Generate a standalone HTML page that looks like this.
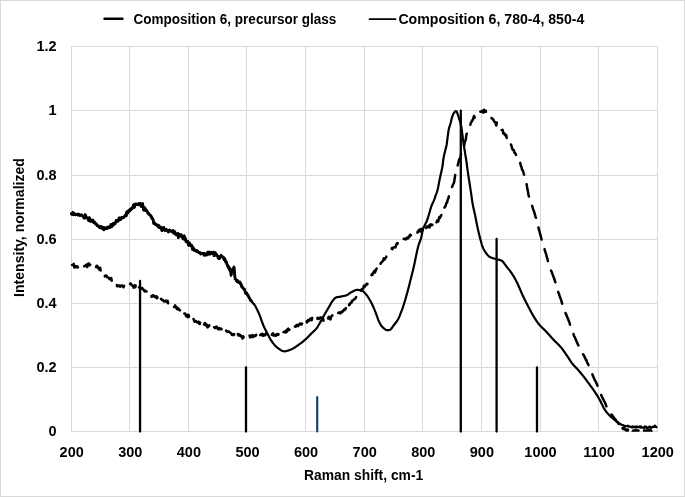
<!DOCTYPE html>
<html><head><meta charset="utf-8"><style>
html,body{margin:0;padding:0;background:#fff;}
body{width:685px;height:497px;overflow:hidden;}
svg{display:block;}
text{font-family:"Liberation Sans",sans-serif;font-weight:bold;font-size:14px;fill:#000;}
text.n{font-size:14.5px;}
</style></head><body>
<svg width="685" height="497" viewBox="0 0 685 497">
<rect x="0.5" y="0.5" width="684" height="496" fill="#fff" stroke="#d9d9d9" stroke-width="1"/>
<g fill="#d9d9d9" shape-rendering="crispEdges"><rect x="71" y="46" width="587" height="1"/><rect x="71" y="110" width="587" height="1"/><rect x="71" y="175" width="587" height="1"/><rect x="71" y="239" width="587" height="1"/><rect x="71" y="303" width="587" height="1"/><rect x="71" y="367" width="587" height="1"/><rect x="71" y="431" width="587" height="1"/><rect x="71" y="46" width="1" height="386"/><rect x="129" y="46" width="1" height="386"/><rect x="188" y="46" width="1" height="386"/><rect x="246" y="46" width="1" height="386"/><rect x="305" y="46" width="1" height="386"/><rect x="364" y="46" width="1" height="386"/><rect x="422" y="46" width="1" height="386"/><rect x="481" y="46" width="1" height="386"/><rect x="540" y="46" width="1" height="386"/><rect x="598" y="46" width="1" height="386"/><rect x="657" y="46" width="1" height="386"/></g>
<g stroke="#000" stroke-width="2.3" stroke-linecap="round"><line x1="140.05" y1="281.0" x2="140.05" y2="431.5"/><line x1="246.0" y1="367.3" x2="246.0" y2="431.5"/><line x1="460.8" y1="110.7" x2="460.8" y2="431.5"/><line x1="496.6" y1="239.0" x2="496.6" y2="431.5"/><line x1="537.0" y1="367.5" x2="537.0" y2="431.5"/></g>
<line x1="317.2" y1="397.1" x2="317.2" y2="431.5" stroke="#1a4178" stroke-width="2.2" stroke-linecap="round"/>
<defs><clipPath id="pa"><rect x="70" y="40" width="590" height="391.7"/></clipPath></defs>
<g fill="none" stroke="#000" stroke-linejoin="round" stroke-linecap="round" clip-path="url(#pa)">
<polyline points="71.10,213.65 71.69,214.27 72.27,213.93 72.86,212.44 73.44,214.78 74.03,214.45 74.62,213.59 75.20,214.82 75.79,214.70 76.37,214.71 76.96,214.53 77.55,215.12 78.13,213.92 78.72,214.58 79.30,214.37 79.89,215.57 80.48,215.18 81.06,215.06 81.65,214.84 82.23,215.66 82.82,216.25 83.41,216.29 83.99,218.18 84.58,218.19 85.16,214.73 85.75,215.78 86.34,217.68 86.92,217.60 87.51,218.40 88.09,218.58 88.68,220.67 89.27,217.65 89.85,218.65 90.44,221.41 91.02,220.50 91.61,221.08 92.20,220.50 92.78,219.95 93.37,222.30 93.95,222.79 94.54,222.00 95.13,223.08 95.71,224.20 96.30,223.79 96.88,225.11 97.47,225.76 98.06,226.12 98.64,225.92 99.23,227.28 99.81,227.77 100.40,227.35 100.99,226.35 101.57,228.07 102.16,227.08 102.74,228.92 103.33,227.50 103.92,229.86 104.50,228.97 105.09,227.66 105.67,228.46 106.26,228.65 106.85,228.69 107.43,227.23 108.02,226.85 108.60,227.86 109.19,226.86 109.78,227.21 110.36,227.35 110.95,224.49 111.53,225.90 112.12,226.37 112.71,224.36 113.29,223.38 113.88,224.49 114.46,223.54 115.05,223.73 115.64,222.04 116.22,220.44 116.81,221.33 117.39,220.51 117.98,221.25 118.57,220.21 119.15,217.96 119.74,218.01 120.32,219.73 120.91,219.18 121.50,217.51 122.08,217.78 122.67,217.83 123.25,217.45 123.84,217.44 124.43,216.39 125.01,215.59 125.60,214.95 126.18,215.75 126.77,211.89 127.36,213.35 127.94,212.80 128.53,210.57 129.11,211.53 129.70,209.75 130.29,210.48 130.87,208.76 131.46,208.89 132.04,208.86 132.63,207.51 133.22,205.72 133.80,204.56 134.39,207.32 134.97,204.98 135.56,203.99 136.15,204.49 136.73,203.93 137.32,204.86 137.90,204.05 138.49,204.10 139.08,203.50 139.66,204.86 140.25,203.57 140.83,205.51 141.42,206.64 142.01,203.94 142.59,203.57 143.18,207.40 143.76,210.16 144.35,207.45 144.94,207.97 145.52,210.50 146.11,209.74 146.69,210.74 147.28,211.57 147.87,213.14 148.45,212.93 149.04,214.38 149.62,214.71 150.21,214.86 150.80,216.25 151.38,216.52 151.97,218.52 152.55,218.56 153.14,219.79 153.73,223.42 154.31,222.76 154.90,223.41 155.48,224.54 156.07,224.12 156.66,224.77 157.24,225.86 157.83,226.15 158.41,225.15 159.00,227.62 159.59,226.70 160.17,226.73 160.76,227.35 161.34,228.27 161.93,230.62 162.52,228.03 163.10,229.50 163.69,227.31 164.27,229.53 164.86,230.51 165.45,229.44 166.03,229.11 166.62,230.03 167.20,230.58 167.79,230.64 168.38,232.07 168.96,230.46 169.55,229.87 170.13,230.58 170.72,230.90 171.31,231.37 171.89,231.53 172.48,232.03 173.06,230.46 173.65,233.23 174.24,232.09 174.82,231.77 175.41,233.85 175.99,234.81 176.58,234.27 177.17,234.24 177.75,233.44 178.34,237.56 178.92,235.89 179.51,234.21 180.10,234.91 180.68,236.13 181.27,234.85 181.85,236.96 182.44,236.74 183.03,238.86 183.61,239.05 184.20,235.89 184.78,239.21 185.37,238.16 185.96,241.51 186.54,241.19 187.13,242.18 187.71,241.17 188.30,244.66 188.89,245.46 189.47,242.98 190.06,245.04 190.64,244.63 191.23,245.94 191.82,245.37 192.40,249.28 192.99,247.28 193.57,248.78 194.16,250.30 194.75,249.69 195.33,250.51 195.92,250.55 196.50,251.32 197.09,250.58 197.68,251.59 198.26,252.08 198.85,252.19 199.43,252.82 200.02,252.71 200.61,254.00 201.19,253.19 201.78,253.65 202.36,253.41 202.95,253.81 203.54,253.31 204.12,255.27 204.71,253.72 205.29,254.15 205.88,255.17 206.47,255.03 207.05,253.98 207.64,252.09 208.22,254.26 208.81,253.86 209.40,252.04 209.98,254.17 210.57,252.71 211.15,252.32 211.74,253.59 212.33,253.38 212.91,253.85 213.50,252.16 214.08,255.71 214.67,253.46 215.26,252.70 215.84,255.07 216.43,254.33 217.01,255.32 217.60,255.96 218.19,257.85 218.77,258.62 219.36,257.26 219.94,258.05 220.53,256.23 221.12,255.34 221.70,256.21 222.29,256.94 222.87,256.97 223.46,257.26 224.05,259.78 224.63,258.44 225.22,260.11 225.80,262.18 226.39,261.86 226.98,264.36 227.56,265.40 228.15,267.46 228.73,266.73 229.32,268.30 229.91,270.60 230.49,268.98 231.08,275.31 231.66,271.64 232.25,270.67 232.84,270.78 233.42,268.65 234.01,267.04 234.59,273.71 235.18,278.98 235.77,279.45 236.35,280.28 236.94,281.51 237.52,280.46 238.11,282.15 238.70,282.32 239.28,282.02 239.87,281.96 240.45,283.84 241.04,283.96 241.63,286.63 242.21,286.59 242.80,288.07 243.38,288.30 243.97,289.35 244.56,289.29 245.14,291.60 245.73,293.49 246.31,292.66 246.90,293.43 247.49,294.76 248.07,295.54 248.66,296.41 249.24,297.88 249.83,298.59 250.42,300.30 251.00,300.46 251.59,301.34 252.17,302.24 252.76,302.56 253.35,303.67 253.93,303.99 254.52,304.82 255.10,305.80 255.69,306.82 256.28,307.90 256.86,309.05 257.45,310.25 258.03,311.51 258.62,312.81 259.21,314.15 259.79,315.61 260.38,317.20 260.96,318.86 261.55,320.55 262.14,322.21 262.72,323.78 263.31,325.22 263.89,326.54 264.48,327.79 265.07,329.00 265.65,330.16 266.24,331.30 266.82,332.42 267.41,333.53 268.00,334.65 268.58,335.78 269.17,336.91 269.75,338.01 270.34,339.07 270.93,340.07 271.51,340.99 272.10,341.81 272.68,342.61 273.27,343.39 273.86,344.13 274.44,344.84 275.03,345.51 275.61,346.13 276.20,346.71 276.79,347.22 277.37,347.68 277.96,348.10 278.54,348.53 279.13,348.95 279.72,349.36 280.30,349.76 280.89,350.12 281.47,350.45 282.06,350.73 282.65,350.97 283.23,351.15 283.82,351.26 284.40,351.30 284.99,351.28 285.58,351.21 286.16,351.11 286.75,350.97 287.33,350.80 287.92,350.61 288.51,350.41 289.09,350.18 289.68,349.95 290.26,349.71 290.85,349.46 291.44,349.23 292.02,348.98 292.61,348.70 293.19,348.39 293.78,348.06 294.37,347.71 294.95,347.34 295.54,346.95 296.12,346.55 296.71,346.15 297.30,345.74 297.88,345.33 298.47,344.92 299.05,344.51 299.64,344.09 300.23,343.67 300.81,343.23 301.40,342.78 301.98,342.33 302.57,341.86 303.16,341.38 303.74,340.90 304.33,340.41 304.91,339.90 305.50,339.39 306.09,338.86 306.67,338.31 307.26,337.74 307.84,337.15 308.43,336.56 309.02,335.95 309.60,335.34 310.19,334.74 310.77,334.13 311.36,333.54 311.95,332.97 312.53,332.42 313.12,331.87 313.70,331.33 314.29,330.77 314.88,330.19 315.46,329.58 316.05,328.92 316.63,328.21 317.22,327.42 317.81,326.50 318.39,325.50 318.98,324.47 319.56,323.43 320.15,322.42 320.74,321.39 321.32,320.35 321.91,319.29 322.49,318.23 323.08,317.17 323.67,316.12 324.25,315.08 324.84,314.06 325.42,313.04 326.01,312.02 326.60,311.01 327.18,310.01 327.77,309.00 328.35,308.00 328.94,307.00 329.53,305.98 330.11,304.91 330.70,303.85 331.28,302.82 331.87,301.88 332.46,301.06 333.04,300.31 333.63,299.58 334.21,298.89 334.80,298.29 335.39,297.81 335.97,297.51 336.56,297.33 337.14,297.18 337.73,297.06 338.32,296.96 338.90,296.87 339.49,296.79 340.07,296.71 340.66,296.63 341.25,296.53 341.83,296.41 342.42,296.29 343.00,296.16 343.59,296.03 344.18,295.89 344.76,295.74 345.35,295.58 345.93,295.40 346.52,295.19 347.11,294.93 347.69,294.60 348.28,294.23 348.86,293.82 349.45,293.40 350.04,292.99 350.62,292.62 351.21,292.30 351.79,291.99 352.38,291.67 352.97,291.34 353.55,291.02 354.14,290.72 354.72,290.45 355.31,290.22 355.90,290.04 356.48,289.93 357.07,289.90 357.65,289.91 358.24,289.95 358.83,290.00 359.41,290.07 360.00,290.16 360.58,290.27 361.17,290.38 361.76,290.51 362.34,290.76 362.93,291.15 363.51,291.66 364.10,292.25 364.69,292.86 365.27,293.47 365.86,294.12 366.44,294.85 367.03,295.63 367.62,296.46 368.20,297.34 368.79,298.24 369.37,299.19 369.96,300.19 370.55,301.26 371.13,302.37 371.72,303.52 372.30,304.71 372.89,305.97 373.48,307.30 374.06,308.68 374.65,310.10 375.23,311.54 375.82,313.00 376.41,314.58 376.99,316.27 377.58,317.96 378.16,319.58 378.75,321.04 379.34,322.26 379.92,323.36 380.51,324.38 381.09,325.32 381.68,326.16 382.27,326.87 382.85,327.44 383.44,327.96 384.02,328.47 384.61,328.95 385.20,329.38 385.78,329.73 386.37,330.00 386.95,330.16 387.54,330.20 388.13,330.16 388.71,330.08 389.30,329.97 389.88,329.83 390.47,329.57 391.06,329.03 391.64,328.29 392.23,327.44 392.81,326.56 393.40,325.73 393.99,324.99 394.57,324.27 395.16,323.54 395.74,322.80 396.33,322.01 396.92,321.16 397.50,320.23 398.09,319.20 398.67,318.04 399.26,316.76 399.85,315.39 400.43,313.94 401.02,312.43 401.60,310.89 402.19,309.31 402.78,307.64 403.36,305.87 403.95,304.02 404.53,302.14 405.12,300.22 405.71,298.22 406.29,296.17 406.88,294.07 407.46,291.93 408.05,289.74 408.64,287.48 409.22,285.18 409.81,282.85 410.39,280.52 410.98,278.21 411.57,275.89 412.15,273.55 412.74,271.17 413.32,268.74 413.91,266.21 414.50,263.50 415.08,260.68 415.67,257.81 416.25,254.96 416.84,252.18 417.43,249.55 418.01,247.14 418.60,245.01 419.18,243.25 419.77,241.76 420.36,240.28 420.94,238.54 421.53,236.14 422.11,233.03 422.70,230.21 423.29,228.40 423.87,227.03 424.46,225.83 425.04,224.60 425.63,223.39 426.22,222.22 426.80,220.96 427.39,219.50 427.97,217.71 428.56,215.73 429.15,213.71 429.73,211.71 430.32,209.61 430.90,207.59 431.49,205.86 432.08,204.46 432.66,203.22 433.25,202.01 433.83,200.67 434.42,199.08 435.01,197.34 435.59,195.62 436.18,194.08 436.76,192.56 437.35,190.77 437.94,188.35 438.52,185.35 439.11,182.19 439.69,179.28 440.28,176.54 440.87,173.83 441.45,171.19 442.04,168.58 442.62,165.26 443.21,160.21 443.80,156.52 444.38,153.96 444.97,151.65 445.55,149.35 446.14,147.16 446.73,144.24 447.31,139.58 447.90,135.09 448.48,130.93 449.07,128.07 449.66,126.14 450.24,124.38 450.83,122.20 451.41,119.65 452.00,117.40 452.59,115.76 453.17,114.33 453.76,113.19 454.34,112.40 454.93,111.72 455.52,111.20 456.10,111.00 456.69,111.70 457.27,113.04 457.86,114.57 458.45,116.42 459.03,118.31 459.62,120.07 460.20,121.90 460.79,124.08 461.38,127.03 461.96,131.07 462.55,135.46 463.13,140.25 463.72,144.62 464.31,148.37 464.89,151.93 465.48,155.47 466.06,158.97 466.65,163.02 467.24,167.62 467.82,171.94 468.41,175.80 468.99,179.50 469.58,183.27 470.17,187.06 470.75,190.89 471.34,194.85 471.92,199.11 472.51,203.09 473.10,206.25 473.68,208.90 474.27,211.38 474.85,213.98 475.44,216.89 476.03,219.95 476.61,223.03 477.20,225.98 477.78,228.69 478.37,231.26 478.96,233.73 479.54,236.10 480.13,238.36 480.71,240.55 481.30,242.74 481.89,244.78 482.47,246.53 483.06,247.92 483.64,249.15 484.23,250.26 484.82,251.27 485.40,252.17 485.99,252.99 486.57,253.75 487.16,254.47 487.75,255.15 488.33,255.77 488.92,256.31 489.50,256.76 490.09,257.10 490.68,257.38 491.26,257.62 491.85,257.84 492.43,258.03 493.02,258.21 493.61,258.38 494.19,258.54 494.78,258.71 495.36,258.89 495.95,259.06 496.54,259.21 497.12,259.35 497.71,259.48 498.29,259.61 498.88,259.75 499.47,259.90 500.05,260.07 500.64,260.26 501.22,260.49 501.81,260.76 502.40,261.17 502.98,261.75 503.57,262.46 504.15,263.25 504.74,264.08 505.33,264.92 505.91,265.73 506.50,266.47 507.08,267.20 507.67,267.93 508.26,268.66 508.84,269.40 509.43,270.15 510.01,270.93 510.60,271.72 511.19,272.55 511.77,273.41 512.36,274.30 512.94,275.22 513.53,276.18 514.12,277.16 514.70,278.18 515.29,279.23 515.87,280.31 516.46,281.42 517.05,282.59 517.63,283.82 518.22,285.11 518.80,286.45 519.39,287.81 519.98,289.19 520.56,290.58 521.15,291.94 521.73,293.28 522.32,294.58 522.91,295.83 523.49,297.06 524.08,298.26 524.66,299.45 525.25,300.63 525.84,301.79 526.42,302.95 527.01,304.09 527.59,305.22 528.18,306.35 528.77,307.48 529.35,308.62 529.94,309.75 530.52,310.87 531.11,311.97 531.70,313.06 532.28,314.11 532.87,315.14 533.45,316.12 534.04,317.08 534.63,318.03 535.21,318.95 535.80,319.86 536.38,320.75 536.97,321.60 537.56,322.43 538.14,323.22 538.73,323.97 539.31,324.67 539.90,325.34 540.49,325.98 541.07,326.59 541.66,327.18 542.24,327.75 542.83,328.31 543.42,328.86 544.00,329.41 544.59,329.98 545.17,330.55 545.76,331.14 546.35,331.76 546.93,332.39 547.52,333.03 548.10,333.68 548.69,334.34 549.28,335.00 549.86,335.66 550.45,336.33 551.03,336.99 551.62,337.65 552.21,338.30 552.79,338.94 553.38,339.57 553.96,340.18 554.55,340.78 555.14,341.36 555.72,341.93 556.31,342.49 556.89,343.05 557.48,343.61 558.07,344.19 558.65,344.77 559.24,345.38 559.82,346.01 560.41,346.66 561.00,347.35 561.58,348.08 562.17,348.83 562.75,349.62 563.34,350.43 563.93,351.25 564.51,352.09 565.10,352.94 565.68,353.80 566.27,354.65 566.86,355.50 567.44,356.35 568.03,357.23 568.61,358.13 569.20,359.05 569.79,359.96 570.37,360.86 570.96,361.73 571.54,362.56 572.13,363.34 572.72,364.06 573.30,364.74 573.89,365.40 574.47,366.03 575.06,366.65 575.65,367.26 576.23,367.87 576.82,368.48 577.40,369.12 577.99,369.77 578.58,370.45 579.16,371.14 579.75,371.83 580.33,372.53 580.92,373.24 581.51,373.95 582.09,374.67 582.68,375.40 583.26,376.14 583.85,376.88 584.44,377.63 585.02,378.40 585.61,379.18 586.19,379.97 586.78,380.76 587.37,381.56 587.95,382.37 588.54,383.17 589.12,383.97 589.71,384.76 590.30,385.55 590.88,386.34 591.47,387.14 592.05,387.94 592.64,388.75 593.23,389.58 593.81,390.42 594.40,391.27 594.98,392.14 595.57,393.02 596.16,393.92 596.74,394.84 597.33,395.78 597.91,396.75 598.50,397.74 599.09,398.75 599.67,399.79 600.26,400.86 600.84,401.95 601.43,403.14 602.02,404.37 602.60,405.60 603.19,406.81 603.77,407.93 604.36,408.94 604.95,409.84 605.53,410.69 606.12,411.50 606.70,412.26 607.29,412.99 607.88,413.68 608.46,414.33 609.05,414.96 609.63,415.55 610.22,416.10 610.81,416.63 611.39,417.14 611.98,417.65 612.56,418.14 613.15,418.64 613.74,419.15 614.32,419.66 614.91,420.17 615.49,420.66 616.08,421.14 616.67,421.60 617.25,422.01 617.84,422.37 618.42,422.76 619.01,423.08 619.60,423.62 620.18,424.03 620.77,424.42 621.35,424.35 621.94,425.03 622.53,425.11 623.11,425.00 623.70,425.45 624.28,425.76 624.87,425.83 625.46,426.01 626.04,426.20 626.63,426.30 627.21,426.14 627.80,425.60 628.39,426.08 628.97,426.52 629.56,426.31 630.14,426.78 630.73,426.90 631.32,426.67 631.90,427.47 632.49,426.36 633.07,427.23 633.66,426.67 634.25,426.57 634.83,427.26 635.42,426.73 636.00,427.50 636.59,426.50 637.18,427.15 637.76,426.70 638.35,427.04 638.93,426.97 639.52,426.52 640.11,427.58 640.69,426.44 641.28,426.60 641.86,427.72 642.45,427.77 643.04,427.59 643.62,427.39 644.21,428.56 644.79,426.46 645.38,426.74 645.97,426.59 646.55,427.73 647.14,427.36 647.72,427.86 648.31,427.77 648.90,427.05 649.48,426.69 650.07,426.58 650.65,428.48 651.24,427.72 651.83,427.48 652.41,426.90 653.00,426.96 653.58,426.85 654.17,426.83 654.76,425.56 655.34,426.93 655.93,426.71 656.51,427.08" stroke-width="2.2"/>
<polyline points="71.10,213.65 71.69,214.27 72.27,213.93 72.86,212.44 73.44,214.78 74.03,214.45 74.62,213.59 75.20,214.82 75.79,214.70 76.37,214.71 76.96,214.53 77.55,215.12 78.13,213.92 78.72,214.58 79.30,214.37 79.89,215.57 80.48,215.18 81.06,215.06 81.65,214.84 82.23,215.66 82.82,216.25 83.41,216.29 83.99,218.18 84.58,218.19 85.16,214.73 85.75,215.78 86.34,217.68 86.92,217.60 87.51,218.40 88.09,218.58 88.68,220.67 89.27,217.65 89.85,218.65 90.44,221.41 91.02,220.50 91.61,221.08 92.20,220.50 92.78,219.95 93.37,222.30 93.95,222.79 94.54,222.00 95.13,223.08 95.71,224.20 96.30,223.79 96.88,225.11 97.47,225.76 98.06,226.12 98.64,225.92 99.23,227.28 99.81,227.77 100.40,227.35 100.99,226.35 101.57,228.07 102.16,227.08 102.74,228.92 103.33,227.50 103.92,229.86 104.50,228.97 105.09,227.66 105.67,228.46 106.26,228.65 106.85,228.69 107.43,227.23 108.02,226.85 108.60,227.86 109.19,226.86 109.78,227.21 110.36,227.35 110.95,224.49 111.53,225.90 112.12,226.37 112.71,224.36 113.29,223.38 113.88,224.49 114.46,223.54 115.05,223.73 115.64,222.04 116.22,220.44 116.81,221.33 117.39,220.51 117.98,221.25 118.57,220.21 119.15,217.96 119.74,218.01 120.32,219.73 120.91,219.18 121.50,217.51 122.08,217.78 122.67,217.83 123.25,217.45 123.84,217.44 124.43,216.39 125.01,215.59 125.60,214.95 126.18,215.75 126.77,211.89 127.36,213.35 127.94,212.80 128.53,210.57 129.11,211.53 129.70,209.75 130.29,210.48 130.87,208.76 131.46,208.89 132.04,208.86 132.63,207.51 133.22,205.72 133.80,204.56 134.39,207.32 134.97,204.98 135.56,203.99 136.15,204.49 136.73,203.93 137.32,204.86 137.90,204.05 138.49,204.10 139.08,203.50 139.66,204.86 140.25,203.57 140.83,205.51 141.42,206.64 142.01,203.94 142.59,203.57 143.18,207.40 143.76,210.16 144.35,207.45 144.94,207.97 145.52,210.50 146.11,209.74 146.69,210.74 147.28,211.57 147.87,213.14 148.45,212.93 149.04,214.38 149.62,214.71 150.21,214.86 150.80,216.25 151.38,216.52 151.97,218.52 152.55,218.56 153.14,219.79 153.73,223.42 154.31,222.76 154.90,223.41 155.48,224.54 156.07,224.12 156.66,224.77 157.24,225.86 157.83,226.15 158.41,225.15 159.00,227.62 159.59,226.70 160.17,226.73 160.76,227.35 161.34,228.27 161.93,230.62 162.52,228.03 163.10,229.50 163.69,227.31 164.27,229.53 164.86,230.51 165.45,229.44 166.03,229.11 166.62,230.03 167.20,230.58 167.79,230.64 168.38,232.07 168.96,230.46 169.55,229.87 170.13,230.58 170.72,230.90 171.31,231.37 171.89,231.53 172.48,232.03 173.06,230.46 173.65,233.23 174.24,232.09 174.82,231.77 175.41,233.85 175.99,234.81 176.58,234.27 177.17,234.24 177.75,233.44 178.34,237.56 178.92,235.89 179.51,234.21 180.10,234.91 180.68,236.13 181.27,234.85 181.85,236.96 182.44,236.74 183.03,238.86 183.61,239.05 184.20,235.89 184.78,239.21 185.37,238.16 185.96,241.51 186.54,241.19 187.13,242.18 187.71,241.17 188.30,244.66 188.89,245.46 189.47,242.98 190.06,245.04 190.64,244.63 191.23,245.94 191.82,245.37 192.40,249.28 192.99,247.28 193.57,248.78 194.16,250.30 194.75,249.69 195.33,250.51 195.92,250.55 196.50,251.32 197.09,250.58 197.68,251.59 198.26,252.08 198.85,252.19 199.43,252.82 200.02,252.71 200.61,254.00 201.19,253.19 201.78,253.65 202.36,253.41 202.95,253.81 203.54,253.31 204.12,255.27 204.71,253.72 205.29,254.15 205.88,255.17 206.47,255.03 207.05,253.98 207.64,252.09 208.22,254.26 208.81,253.86 209.40,252.04 209.98,254.17 210.57,252.71 211.15,252.32 211.74,253.59 212.33,253.38 212.91,253.85 213.50,252.16 214.08,255.71 214.67,253.46 215.26,252.70 215.84,255.07 216.43,254.33 217.01,255.32 217.60,255.96 218.19,257.85 218.77,258.62 219.36,257.26 219.94,258.05 220.53,256.23 221.12,255.34 221.70,256.21 222.29,256.94 222.87,256.97 223.46,257.26 224.05,259.78 224.63,258.44 225.22,260.11 225.80,262.18 226.39,261.86 226.98,264.36 227.56,265.40 228.15,267.46 228.73,266.73 229.32,268.30 229.91,270.60 230.49,268.98 231.08,275.31 231.66,271.64 232.25,270.67 232.84,270.78 233.42,268.65 234.01,267.04 234.59,273.71 235.18,278.98 235.77,279.45 236.35,280.28 236.94,281.51 237.52,280.46 238.11,282.15 238.70,282.32 239.28,282.02 239.87,281.96 240.45,283.84 241.04,283.96 241.63,286.63 242.21,286.59 242.80,288.07 243.38,288.30 243.97,289.35 244.56,289.29 245.14,291.60 245.73,293.49 246.31,292.66 246.90,293.43 247.49,294.76 248.07,295.54 248.66,296.41 249.24,297.88 249.83,298.59 250.42,300.30 251.00,300.46 251.59,301.34" stroke-width="2.8"/>
<polyline points="72.00,265.05 72.59,264.80 73.17,265.20 73.76,263.85 74.34,267.50 74.93,267.19 75.52,266.19 76.10,267.20 76.69,266.89 77.27,266.26 77.86,267.47 78.45,266.42 79.03,266.36 79.62,265.94 80.20,266.87 80.79,266.36 81.38,266.81 81.96,265.82 82.55,266.33 83.13,265.43 83.72,266.71 84.31,266.08 84.89,266.08 85.48,266.03 86.06,264.78 86.65,266.08 87.24,266.94 87.82,263.81 88.41,263.57 88.99,263.59 89.58,265.33 90.17,264.66 90.75,265.37 91.34,265.09 91.92,264.74 92.51,264.92 93.10,264.71 93.68,265.73 94.27,264.33 94.85,265.11 95.44,265.88 96.03,267.44 96.61,265.75 97.20,265.90 97.78,266.73 98.37,268.42 98.96,267.96 99.54,269.74 100.13,267.73 100.71,270.71 101.30,271.25 101.89,269.92 102.47,271.83 103.06,273.34 103.64,273.12 104.23,274.58 104.82,276.40 105.40,275.40 105.99,275.56 106.57,275.71 107.16,277.33 107.75,277.12 108.33,277.57 108.92,278.07 109.50,279.12 110.09,278.22 110.68,278.35 111.26,278.14 111.85,281.57 112.43,281.19 113.02,282.85 113.61,282.13 114.19,282.02 114.78,283.44 115.36,283.45 115.95,282.99 116.54,283.76 117.12,286.34 117.71,285.61 118.29,285.99 118.88,285.67 119.47,285.45 120.05,286.77 120.64,286.03 121.22,285.55 121.81,286.09 122.40,285.50 122.98,286.41 123.57,287.18 124.15,285.62 124.74,287.44 125.33,285.76 125.91,286.35 126.50,285.42 127.08,285.71 127.67,285.69 128.26,285.06 128.84,284.59 129.43,284.39 130.01,284.09 130.60,283.38 131.19,284.39 131.77,285.07 132.36,285.77 132.94,285.89 133.53,287.59 134.12,285.95 134.70,285.33 135.29,287.20 135.87,284.86 136.46,286.53 137.05,285.18 137.63,286.51 138.22,284.97 138.80,287.57 139.39,287.00 139.98,286.63 140.56,289.03 141.15,288.61 141.73,288.37 142.32,288.12 142.91,289.16 143.49,289.58 144.08,290.82 144.66,291.38 145.25,290.64 145.84,291.15 146.42,291.57 147.01,291.30 147.59,292.29 148.18,293.05 148.77,294.04 149.35,294.90 149.94,293.54 150.52,294.96 151.11,294.49 151.70,296.83 152.28,295.44 152.87,296.19 153.45,295.34 154.04,295.73 154.63,296.82 155.21,296.63 155.80,297.49 156.38,296.22 156.97,298.26 157.56,297.26 158.14,299.62 158.73,298.26 159.31,299.63 159.90,297.89 160.49,299.60 161.07,298.81 161.66,299.40 162.24,300.08 162.83,300.07 163.42,300.79 164.00,301.44 164.59,301.62 165.17,301.28 165.76,300.52 166.35,301.22 166.93,301.97 167.52,300.70 168.10,303.27 168.69,302.75 169.28,303.03 169.86,304.29 170.45,304.38 171.03,304.34 171.62,303.70 172.21,305.11 172.79,305.52 173.38,304.93 173.96,306.88 174.55,306.87 175.14,305.32 175.72,307.42 176.31,306.75 176.89,309.10 177.48,309.27 178.07,308.17 178.65,308.76 179.24,309.96 179.82,310.09 180.41,311.92 181.00,311.70 181.58,311.29 182.17,312.39 182.75,310.71 183.34,313.00 183.93,313.85 184.51,313.43 185.10,313.41 185.68,314.85 186.27,316.38 186.86,315.39 187.44,314.76 188.03,317.26 188.61,315.05 189.20,317.40 189.79,316.98 190.37,318.64 190.96,317.65 191.54,319.81 192.13,319.40 192.72,318.16 193.30,318.33 193.89,319.99 194.47,321.59 195.06,320.95 195.65,321.20 196.23,321.24 196.82,322.29 197.40,322.26 197.99,322.44 198.58,321.67 199.16,323.64 199.75,324.01 200.33,322.09 200.92,325.18 201.51,324.11 202.09,323.33 202.68,322.37 203.26,324.58 203.85,324.65 204.44,323.88 205.02,323.06 205.61,325.54 206.19,324.31 206.78,324.55 207.37,327.36 207.95,326.95 208.54,326.17 209.12,325.22 209.71,326.28 210.30,324.11 210.88,326.20 211.47,325.68 212.05,325.45 212.64,325.39 213.23,327.27 213.81,327.11 214.40,327.36 214.98,328.10 215.57,326.95 216.16,326.84 216.74,326.61 217.33,327.97 217.91,329.05 218.50,328.54 219.09,329.39 219.67,328.15 220.26,328.94 220.84,328.92 221.43,328.76 222.02,331.46 222.60,330.88 223.19,329.81 223.77,330.03 224.36,330.83 224.95,329.94 225.53,331.67 226.12,330.52 226.70,331.49 227.29,331.20 227.88,331.88 228.46,331.43 229.05,331.48 229.63,332.19 230.22,332.65 230.81,333.19 231.39,333.70 231.98,335.07 232.56,334.71 233.15,334.06 233.74,335.06 234.32,334.14 234.91,336.06 235.49,335.54 236.08,334.21 236.67,336.08 237.25,336.29 237.84,333.63 238.42,335.29 239.01,335.60 239.60,334.53 240.18,335.31 240.77,335.49 241.35,336.74 241.94,336.64 242.53,338.57 243.11,336.20 243.70,337.48 244.28,336.65 244.87,336.82 245.46,335.67 246.04,335.05 246.63,335.94 247.21,337.12 247.80,337.73 248.39,336.89 248.97,336.74 249.56,335.60 250.14,337.43 250.73,337.21 251.32,335.63 251.90,335.95 252.49,335.12 253.07,337.02 253.66,336.11 254.25,335.64 254.83,335.96 255.42,335.90 256.00,335.13 256.59,334.37 257.18,334.24 257.76,333.79 258.35,335.46 258.93,336.79 259.52,333.59 260.11,335.00 260.69,335.17 261.28,334.02 261.86,334.96 262.45,333.92 263.04,335.76 263.62,334.32 264.21,334.88 264.79,335.35 265.38,334.46 265.97,333.37 266.55,334.37 267.14,335.41 267.72,334.73 268.31,334.98 268.90,333.94 269.48,334.91 270.07,335.38 270.65,334.83 271.24,336.32 271.83,334.60 272.41,333.91 273.00,333.41 273.58,335.58 274.17,334.56 274.76,335.35 275.34,334.84 275.93,335.71 276.51,335.34 277.10,333.95 277.69,334.39 278.27,334.95 278.86,333.00 279.44,335.04 280.03,334.71 280.62,334.36 281.20,333.22 281.79,333.42 282.37,332.06 282.96,332.76 283.55,331.99 284.13,332.28 284.72,331.56 285.30,331.94 285.89,332.41 286.48,330.17 287.06,331.69 287.65,329.09 288.23,328.68 288.82,330.03 289.41,329.84 289.99,329.89 290.58,327.92 291.16,328.88 291.75,328.72 292.34,329.31 292.92,327.91 293.51,328.08 294.09,326.53 294.68,326.80 295.27,326.22 295.85,326.76 296.44,325.03 297.02,324.78 297.61,325.54 298.20,326.15 298.78,324.69 299.37,324.31 299.95,323.50 300.54,324.37 301.13,323.66 301.71,324.35 302.30,322.96 302.88,321.69 303.47,321.75 304.06,321.18 304.64,320.75 305.23,322.55 305.81,321.99 306.40,320.18 306.99,322.43 307.57,321.05 308.16,319.95 308.74,320.89 309.33,320.40 309.92,319.72 310.50,318.67 311.09,320.14 311.67,320.24 312.26,317.84 312.85,320.25 313.43,320.19 314.02,319.22 314.60,319.58 315.19,319.16 315.78,318.61 316.36,318.89 316.95,320.15 317.53,317.81 318.12,319.06 318.71,318.93 319.29,318.13 319.88,318.26 320.46,317.42 321.05,317.79 321.64,318.43 322.22,318.63 322.81,317.60 323.39,320.73 323.98,317.79 324.57,318.30 325.15,317.97 325.74,317.78 326.32,319.08 326.91,317.59 327.50,318.96 328.08,318.72 328.67,316.87 329.25,318.42 329.84,316.95 330.43,319.53 331.01,316.89 331.60,316.30 332.18,315.36 332.77,315.68 333.36,316.05 333.94,315.47 334.53,315.02 335.11,315.16 335.70,315.25 336.29,316.25 336.87,313.40 337.46,313.99 338.04,313.34 338.63,312.56 339.22,312.43 339.80,312.38 340.39,313.34 340.97,312.25 341.56,311.60 342.15,312.12 342.73,311.43 343.32,310.57 343.90,310.55 344.49,309.02 345.08,309.60 345.66,308.86 346.25,307.53 346.83,306.25 347.42,307.81 348.01,306.05 348.59,307.77 349.18,304.16 349.76,304.70 350.35,303.00 350.94,302.88 351.52,302.67 352.11,300.69 352.69,300.59 353.28,300.14 353.87,299.45 354.45,299.19 355.04,298.88 355.62,298.06 356.21,296.94 356.80,295.76 357.38,294.44 357.97,294.02 358.55,293.45 359.14,293.66 359.73,292.07 360.31,290.61 360.90,291.37 361.48,289.51 362.07,288.86 362.66,288.66 363.24,288.60 363.83,285.70 364.41,286.12 365.00,286.53 365.59,285.43 366.17,284.31 366.76,283.76 367.34,284.39 367.93,281.92 368.52,281.78 369.10,280.74 369.69,278.63 370.27,278.23 370.86,276.44 371.45,275.29 372.03,273.95 372.62,274.70 373.20,272.89 373.79,272.00 374.38,270.81 374.96,272.45 375.55,270.91 376.13,269.53 376.72,268.41 377.31,267.06 377.89,267.83 378.48,267.12 379.06,265.03 379.65,266.33 380.24,265.24 380.82,263.04 381.41,262.53 381.99,261.79 382.58,261.42 383.17,260.32 383.75,258.28 384.34,259.94 384.92,258.19 385.51,258.15 386.10,257.37 386.68,255.46 387.27,255.18 387.85,254.79 388.44,254.13 389.03,252.71 389.61,251.69 390.20,251.56 390.78,250.25 391.37,249.81 391.96,248.01 392.54,249.08 393.13,247.58 393.71,247.35 394.30,247.15 394.89,246.83 395.47,247.46 396.06,245.49 396.64,243.58 397.23,244.20 397.82,243.02 398.40,243.24 398.99,241.82 399.57,241.28 400.16,240.95 400.75,240.41 401.33,239.05 401.92,239.62 402.50,239.80 403.09,240.46 403.68,238.97 404.26,238.63 404.85,239.12 405.43,238.83 406.02,239.41 406.61,238.34 407.19,237.58 407.78,238.39 408.36,238.24 408.95,236.33 409.54,236.52 410.12,234.74 410.71,235.47 411.29,234.74 411.88,234.95 412.47,234.41 413.05,234.34 413.64,234.06 414.22,234.21 414.81,233.68 415.40,232.72 415.98,231.81 416.57,233.50 417.15,233.31 417.74,231.48 418.33,231.95 418.91,229.94 419.50,229.57 420.08,230.27 420.67,231.34 421.26,229.00 421.84,228.86 422.43,230.52 423.01,227.43 423.60,229.20 424.19,228.82 424.77,228.03 425.36,228.12 425.94,229.85 426.53,226.63 427.12,227.05 427.70,226.88 428.29,226.28 428.87,225.49 429.46,227.56 430.05,226.15 430.63,224.23 431.22,224.71 431.80,225.20 432.39,224.79 432.98,222.87 433.56,223.49 434.15,223.30 434.73,222.90 435.32,222.39 435.91,220.09 436.49,222.49 437.08,220.64 437.66,221.35 438.25,221.61 438.84,218.57 439.42,217.05 440.01,218.01 440.59,216.39 441.18,215.32 441.77,213.87 442.35,214.85 442.94,211.79 443.52,209.58 444.11,208.89 444.70,206.91 445.28,206.60 445.87,204.76 446.45,202.82 447.04,202.61 447.63,199.91 448.21,198.92 448.80,196.93 449.38,193.46 449.97,191.53 450.56,190.69 451.14,189.83 451.73,187.69 452.31,186.34 452.90,184.89 453.49,183.78 454.07,182.32 454.66,178.59 455.24,174.86 455.83,172.30 456.42,169.31 457.00,167.76 457.59,165.97 458.17,163.44 458.76,160.98 459.35,158.93 459.93,159.11 460.52,156.68 461.10,153.48 461.69,152.15 462.28,152.74 462.86,150.76 463.45,147.78 464.03,146.55 464.62,142.23 465.21,141.14 465.79,139.41 466.38,134.93 466.96,133.18 467.55,132.11 468.14,130.66 468.72,127.80 469.31,127.19 469.89,127.02 470.48,124.24 471.07,122.23 471.65,121.87 472.24,120.11 472.82,120.00 473.41,117.78 474.00,116.00 474.58,117.84 475.17,114.87 475.75,115.07 476.34,114.71 476.93,114.34 477.51,113.45 478.10,113.43 478.68,112.60 479.27,111.25 479.86,111.94 480.44,111.70 481.03,111.50 481.61,111.57 482.20,110.84 482.79,112.36 483.37,112.62 483.96,109.81 484.54,111.90 485.13,111.73 485.72,110.69 486.30,113.62 486.89,113.34 487.47,114.09 488.06,114.40 488.65,116.29 489.23,116.91 489.82,116.67 490.40,117.54 490.99,117.47 491.58,118.25 492.16,118.14 492.75,119.38 493.33,119.41 493.92,120.91 494.51,121.92 495.09,122.16 495.68,123.53 496.26,125.43 496.85,122.30 497.44,124.72 498.02,125.00 498.61,125.84 499.19,125.89 499.78,127.79 500.37,128.33 500.95,128.82 501.54,129.92 502.12,130.46 502.71,129.87 503.30,133.43 503.88,133.15 504.47,133.48 505.05,135.35 505.64,135.46 506.23,135.14 506.81,138.51 507.40,137.40 507.98,139.53 508.57,140.81 509.16,142.83 509.74,143.78 510.33,144.06 510.91,144.44 511.50,145.84 512.09,148.18 512.67,149.87 513.26,150.00 513.84,150.19 514.43,152.67 515.02,152.70 515.60,153.86 516.19,155.15 516.77,157.01 517.36,158.01 517.95,159.76 518.53,161.20 519.12,161.94 519.70,161.45 520.29,163.22 520.88,165.72 521.46,167.02 522.05,169.71 522.63,170.07 523.22,171.62 523.81,173.84 524.39,175.71 524.98,177.12 525.56,179.75 526.15,181.84 526.74,184.92 527.32,188.82 527.91,191.06 528.49,194.78 529.08,197.41 529.67,199.74 530.25,201.63 530.84,203.11 531.42,203.88 532.01,205.61 532.60,207.33 533.18,209.43 533.77,210.69 534.35,212.61 534.94,214.56 535.53,216.91 536.11,218.21 536.70,220.28 537.28,222.91 537.87,224.56 538.46,227.63 539.04,229.88 539.63,231.93 540.21,234.41 540.80,236.40 541.39,238.78 541.97,240.87 542.56,243.16 543.14,244.77 543.73,246.74 544.32,248.45 544.90,250.43 545.49,252.56 546.07,253.73 546.66,256.42 547.25,258.26 547.83,260.60 548.42,262.82 549.00,265.00 549.59,266.73 550.18,268.24 550.76,269.92 551.35,271.26 551.93,272.58 552.52,274.10 553.11,275.78 553.69,277.26 554.28,279.05 554.86,280.55 555.45,282.75 556.04,284.24 556.62,286.78 557.21,288.20 557.79,290.56 558.38,292.76 558.97,293.68 559.55,295.88 560.14,297.41 560.72,298.93 561.31,300.65 561.90,302.81 562.48,304.83 563.07,306.35 563.65,307.61 564.24,309.38 564.83,311.12 565.41,312.97 566.00,314.10 566.58,315.49 567.17,317.12 567.76,318.22 568.34,319.79 568.93,321.39 569.51,322.67 570.10,324.94 570.69,326.64 571.27,328.48 571.86,329.58 572.44,331.25 573.03,333.20 573.62,334.54 574.20,336.26 574.79,337.13 575.37,338.79 575.96,339.93 576.55,341.49 577.13,342.56 577.72,344.03 578.30,345.34 578.89,346.37 579.48,346.86 580.06,348.64 580.65,349.61 581.23,350.34 581.82,351.50 582.41,352.84 582.99,354.09 583.58,354.94 584.16,355.76 584.75,357.37 585.34,358.45 585.92,360.12 586.51,360.30 587.09,362.42 587.68,363.47 588.27,364.48 588.85,366.34 589.44,367.54 590.02,369.36 590.61,370.45 591.20,372.06 591.78,373.14 592.37,374.32 592.95,375.93 593.54,377.09 594.13,378.61 594.71,379.93 595.30,380.69 595.88,381.93 596.47,383.28 597.06,384.29 597.64,386.37 598.23,387.91 598.81,389.44 599.40,390.59 599.99,391.70 600.57,393.40 601.16,394.79 601.74,396.27 602.33,397.45 602.92,398.75 603.50,399.70 604.09,401.10 604.67,401.96 605.26,403.38 605.85,404.71 606.43,406.50 607.02,407.06 607.60,407.79 608.19,409.77 608.78,410.02 609.36,411.20 609.95,411.98 610.53,412.56 611.12,414.31 611.71,414.84 612.29,415.15 612.88,416.33 613.46,416.95 614.05,418.33 614.64,418.66 615.22,419.25 615.81,420.06 616.39,420.88 616.98,421.99 617.57,421.94 618.15,423.08 618.74,424.04 619.32,425.86 619.91,425.48 620.50,423.45 621.08,425.69 621.67,426.34 622.25,427.42 622.84,428.91 623.43,428.83 624.01,426.97 624.60,429.42 625.18,429.60 625.77,430.07 626.36,430.83 626.94,429.51 627.53,430.97 628.11,429.44 628.70,430.58 629.29,430.89 629.87,432.12 630.46,430.40 631.04,429.85 631.63,431.31 632.22,430.50 632.80,431.84 633.39,430.48 633.97,430.37 634.56,431.65 635.15,430.95 635.73,431.50 636.32,430.04 636.90,431.89 637.49,430.55 638.08,431.39 638.66,430.30 639.25,429.97 639.83,430.75 640.42,431.00 641.01,431.85 641.59,431.11 642.18,431.33 642.76,431.30 643.35,432.77 643.94,430.41 644.52,431.65 645.11,430.81 645.69,431.06 646.28,430.57 646.87,431.60 647.45,430.15 648.04,430.11 648.62,430.78 649.21,430.21 649.80,431.32 650.38,431.45 650.97,430.45 651.55,431.37 652.14,430.50 652.73,430.87 653.31,430.90 653.90,432.03 654.48,430.90 655.07,430.35 655.66,430.35 656.24,431.62 656.83,429.90" stroke-width="2.5" stroke-dasharray="12.5 10"/>
</g>
<line x1="104.5" y1="18.8" x2="122.5" y2="18.8" stroke="#000" stroke-width="2.4" stroke-linecap="round"/>
<line x1="369.5" y1="19.2" x2="395.5" y2="19.2" stroke="#000" stroke-width="1.8" stroke-linecap="round"/>
<g style="filter:grayscale(1)">
<text x="133.6" y="23.7" textLength="202.6" lengthAdjust="spacingAndGlyphs">Composition 6, precursor glass</text>
<text x="398.4" y="23.7" textLength="186" lengthAdjust="spacingAndGlyphs">Composition 6, 780-4, 850-4</text>
<text class="n" x="56.6" y="436.20" text-anchor="end">0</text><text class="n" x="56.6" y="372.03" text-anchor="end">0.2</text><text class="n" x="56.6" y="307.87" text-anchor="end">0.4</text><text class="n" x="56.6" y="243.70" text-anchor="end">0.6</text><text class="n" x="56.6" y="179.53" text-anchor="end">0.8</text><text class="n" x="56.6" y="115.37" text-anchor="end">1</text><text class="n" x="56.6" y="51.20" text-anchor="end">1.2</text>
<text class="n" x="71.70" y="457.1" text-anchor="middle">200</text><text class="n" x="130.30" y="457.1" text-anchor="middle">300</text><text class="n" x="188.90" y="457.1" text-anchor="middle">400</text><text class="n" x="247.50" y="457.1" text-anchor="middle">500</text><text class="n" x="306.10" y="457.1" text-anchor="middle">600</text><text class="n" x="364.70" y="457.1" text-anchor="middle">700</text><text class="n" x="423.30" y="457.1" text-anchor="middle">800</text><text class="n" x="481.90" y="457.1" text-anchor="middle">900</text><text class="n" x="540.50" y="457.1" text-anchor="middle">1000</text><text class="n" x="599.10" y="457.1" text-anchor="middle">1100</text><text class="n" x="657.70" y="457.1" text-anchor="middle">1200</text>
<text x="304.0" y="480.1" textLength="119.2" lengthAdjust="spacingAndGlyphs">Raman shift, cm-1</text>
<text transform="translate(24.3,296.9) rotate(-90)" x="0" y="0" textLength="138.8" lengthAdjust="spacingAndGlyphs">Intensity, normalized</text>
</g>
</svg>
</body></html>
